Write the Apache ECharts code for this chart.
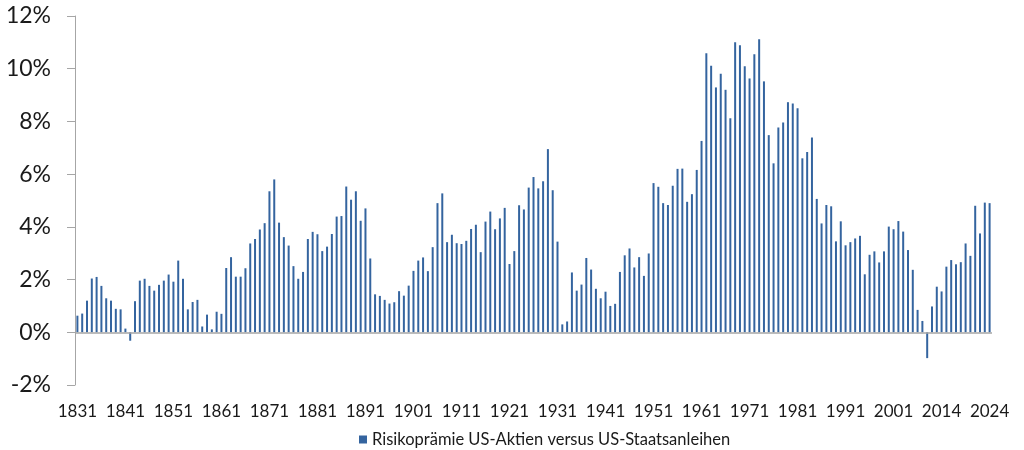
<!DOCTYPE html>
<html>
<head>
<meta charset="utf-8">
<title>Risikoprämie US-Aktien versus US-Staatsanleihen</title>
<script src="https://cdn.jsdelivr.net/npm/echarts@6/dist/echarts.min.js"></script>
<style>
html, body { margin: 0; padding: 0; background: #ffffff; }
#chart { width: 1024px; height: 450px; }
</style>
</head>
<body>
<div id="chart"></div>
<script>
// years shown on the category axis (2011-2013 are not in the source series)
var years = [
  1831, 1832, 1833, 1834, 1835, 1836, 1837, 1838, 1839, 1840,
  1841, 1842, 1843, 1844, 1845, 1846, 1847, 1848, 1849, 1850,
  1851, 1852, 1853, 1854, 1855, 1856, 1857, 1858, 1859, 1860,
  1861, 1862, 1863, 1864, 1865, 1866, 1867, 1868, 1869, 1870,
  1871, 1872, 1873, 1874, 1875, 1876, 1877, 1878, 1879, 1880,
  1881, 1882, 1883, 1884, 1885, 1886, 1887, 1888, 1889, 1890,
  1891, 1892, 1893, 1894, 1895, 1896, 1897, 1898, 1899, 1900,
  1901, 1902, 1903, 1904, 1905, 1906, 1907, 1908, 1909, 1910,
  1911, 1912, 1913, 1914, 1915, 1916, 1917, 1918, 1919, 1920,
  1921, 1922, 1923, 1924, 1925, 1926, 1927, 1928, 1929, 1930,
  1931, 1932, 1933, 1934, 1935, 1936, 1937, 1938, 1939, 1940,
  1941, 1942, 1943, 1944, 1945, 1946, 1947, 1948, 1949, 1950,
  1951, 1952, 1953, 1954, 1955, 1956, 1957, 1958, 1959, 1960,
  1961, 1962, 1963, 1964, 1965, 1966, 1967, 1968, 1969, 1970,
  1971, 1972, 1973, 1974, 1975, 1976, 1977, 1978, 1979, 1980,
  1981, 1982, 1983, 1984, 1985, 1986, 1987, 1988, 1989, 1990,
  1991, 1992, 1993, 1994, 1995, 1996, 1997, 1998, 1999, 2000,
  2001, 2002, 2003, 2004, 2005, 2006, 2007, 2008, 2009, 2010,
  2014, 2015, 2016, 2017, 2018, 2019, 2020, 2021, 2022, 2023,
  2024
]

// risk premium in percent, one value per year above
var premium = [
  0.63, 0.71, 1.20, 2.04, 2.10, 1.76, 1.29, 1.20, 0.89, 0.87,
  0.14, -0.32, 1.18, 1.96, 2.03, 1.76, 1.58, 1.80, 1.96, 2.19,
  1.92, 2.72, 2.03, 0.87, 1.15, 1.23, 0.22, 0.67, 0.11, 0.78,
  0.70, 2.44, 2.85, 2.11, 2.11, 2.43, 3.37, 3.54, 3.90, 4.14,
  5.35, 5.80, 4.16, 3.61, 3.29, 2.51, 2.03, 2.29, 3.54, 3.81,
  3.72, 3.08, 3.25, 3.73, 4.39, 4.41, 5.53, 5.03, 5.35, 4.23,
  4.70, 2.80, 1.44, 1.38, 1.23, 1.09, 1.14, 1.56, 1.39, 1.77,
  2.33, 2.72, 2.84, 2.32, 3.23, 4.90, 5.27, 3.42, 3.70, 3.38,
  3.35, 3.47, 3.92, 4.08, 3.04, 4.20, 4.58, 3.91, 4.32, 4.72,
  2.59, 3.08, 4.82, 4.66, 5.49, 5.89, 5.46, 5.73, 6.95, 5.39,
  3.44, 0.30, 0.41, 2.27, 1.58, 1.81, 2.82, 2.38, 1.65, 1.29,
  1.54, 1.00, 1.08, 2.29, 2.92, 3.18, 2.46, 2.85, 2.14, 2.99,
  5.66, 5.52, 4.90, 4.83, 5.56, 6.20, 6.21, 4.95, 5.24, 6.16,
  7.26, 10.59, 10.11, 9.29, 9.81, 9.20, 8.12, 11.00, 10.89, 10.09,
  9.63, 10.55, 11.12, 9.52, 7.48, 6.41, 7.77, 7.96, 8.73, 8.68,
  8.50, 6.60, 6.84, 7.39, 5.06, 4.13, 4.83, 4.78, 3.45, 4.21,
  3.30, 3.42, 3.56, 3.66, 2.20, 2.94, 3.07, 2.65, 3.07, 4.01,
  3.91, 4.22, 3.82, 3.12, 2.37, 0.85, 0.43, -0.98, 0.98, 1.73,
  1.55, 2.49, 2.74, 2.58, 2.66, 3.37, 2.90, 4.80, 3.75, 4.92,
  4.90
]

var seriesName = 'Risikoprämie US-Aktien versus US-Staatsanleihen'

var textFont = 'Lato, "Open Sans", sans-serif'
var axisGray = '#a6a6a6'
var barBlue = '#34649f'

var chart = echarts.init(document.getElementById('chart'), null, { renderer: 'canvas' })

var option = {
  animation: false,
  backgroundColor: '#ffffff',
  grid: { left: 75, right: 32, top: 16, bottom: 65, containLabel: false },
  legend: {
    data: [seriesName],
    left: 354,
    top: 426,
    icon: 'rect',
    itemWidth: 8,
    itemHeight: 8,
    itemGap: 5,
    textStyle: { fontFamily: textFont, fontSize: 16.5, color: '#1a1a1a' }
  },
  xAxis: {
    type: 'category',
    data: years,
    boundaryGap: true,
    axisLine: { show: false, onZero: false },
    axisTick: { show: false },
    axisLabel: {
      interval: 9,
      margin: 18,
      fontFamily: textFont,
      fontSize: 17,
      color: '#1a1a1a'
    },
    splitLine: { show: false }
  },
  yAxis: {
    type: 'value',
    min: -2,
    max: 12,
    interval: 2,
    axisLine: { show: true, lineStyle: { color: axisGray, width: 1 } },
    axisTick: { show: true, length: 8, lineStyle: { color: axisGray, width: 1 } },
    axisLabel: {
      formatter: '{value}%',
      margin: 24,
      fontFamily: textFont,
      fontSize: 23,
      color: '#1a1a1a'
    },
    splitLine: { show: false }
  },
  series: [{
    name: seriesName,
    type: 'bar',
    data: premium,
    barWidth: 2,
    itemStyle: { color: barBlue },
    markLine: {
      silent: true,
      symbol: 'none',
      label: { show: false },
      lineStyle: { color: axisGray, width: 1.5, type: 'solid' },
      data: [{ yAxis: 0 }]
    }
  }]
}

chart.setOption(option)
</script>
</body>
</html>
